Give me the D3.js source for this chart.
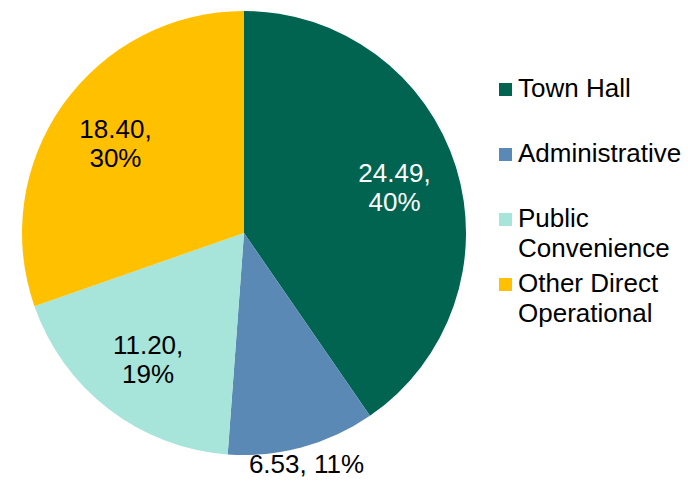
<!DOCTYPE html>
<html><head><meta charset="utf-8">
<script src="https://cdn.jsdelivr.net/npm/d3@7"></script>
<style>body{margin:0;background:#fff;}svg{display:block;font-family:"Liberation Sans",Arial,sans-serif;}</style>
</head><body>
<svg id="c" width="688" height="481"></svg>
<script>
const categories = ["Town Hall", "Administrative", "Public Convenience", "Other Direct Operational"];
const values = [24.49, 6.53, 11.20, 18.40];
const percents = ["40%", "11%", "19%", "30%"];
const colors = ["#006450", "#5B89B5", "#A7E4DA", "#FFC000"];
const labelColors = ["#ffffff", "#000000", "#000000", "#000000"];
const legendLines = [["Town Hall"], ["Administrative"], ["Public", "Convenience"], ["Other Direct", "Operational"]];

const svg = d3.select("#c");
const cx = 244, cy = 233, R = 222;
const data = categories.map((c, i) => ({c, v: values[i], i}));
const pie = d3.pie().value(d => d.v).sort(null);
const arcs = pie(data);
const arc = d3.arc().innerRadius(0).outerRadius(R);
const g = svg.append("g").attr("transform", `translate(${cx},${cy})`);
g.selectAll("path").data(arcs).join("path")
  .attr("d", arc).attr("fill", d => colors[d.data.i]);

const inArc = d3.arc().innerRadius(R * 0.71).outerRadius(R * 0.71);
const outArc = d3.arc().innerRadius(R * 1.075).outerRadius(R * 1.075);
const fs = 26, lh = 29;
arcs.forEach(a => {
  const pct = percents[a.data.i];
  const val = a.data.v.toFixed(2);
  const inside = (a.endAngle - a.startAngle) > 0.8;
  const [x, y] = (inside ? inArc : outArc).centroid(a);
  const t = g.append("text").attr("text-anchor", "middle")
    .attr("font-size", fs).attr("fill", labelColors[a.data.i]);
  if (inside) {
    t.append("tspan").attr("x", x).attr("y", y - lh / 2 + fs * 0.4).text(val + ",");
    t.append("tspan").attr("x", x).attr("y", y + lh / 2 + fs * 0.4).text(pct);
  } else {
    t.attr("x", x).attr("y", y + fs * 0.36).text(val + ", " + pct);
  }
});

// legend
const legY = [97, 162, 227, 292];
const lg = svg.append("g");
legendLines.forEach((lines, i) => {
  lg.append("rect").attr("x", 499).attr("y", legY[i] - 14).attr("width", 13).attr("height", 13)
    .attr("fill", colors[i]);
  const t = lg.append("text").attr("font-size", fs).attr("fill", "#000");
  lines.forEach((l, j) => t.append("tspan").attr("x", 518).attr("y", legY[i] + j * 30).text(l));
});
</script>
</body></html>
